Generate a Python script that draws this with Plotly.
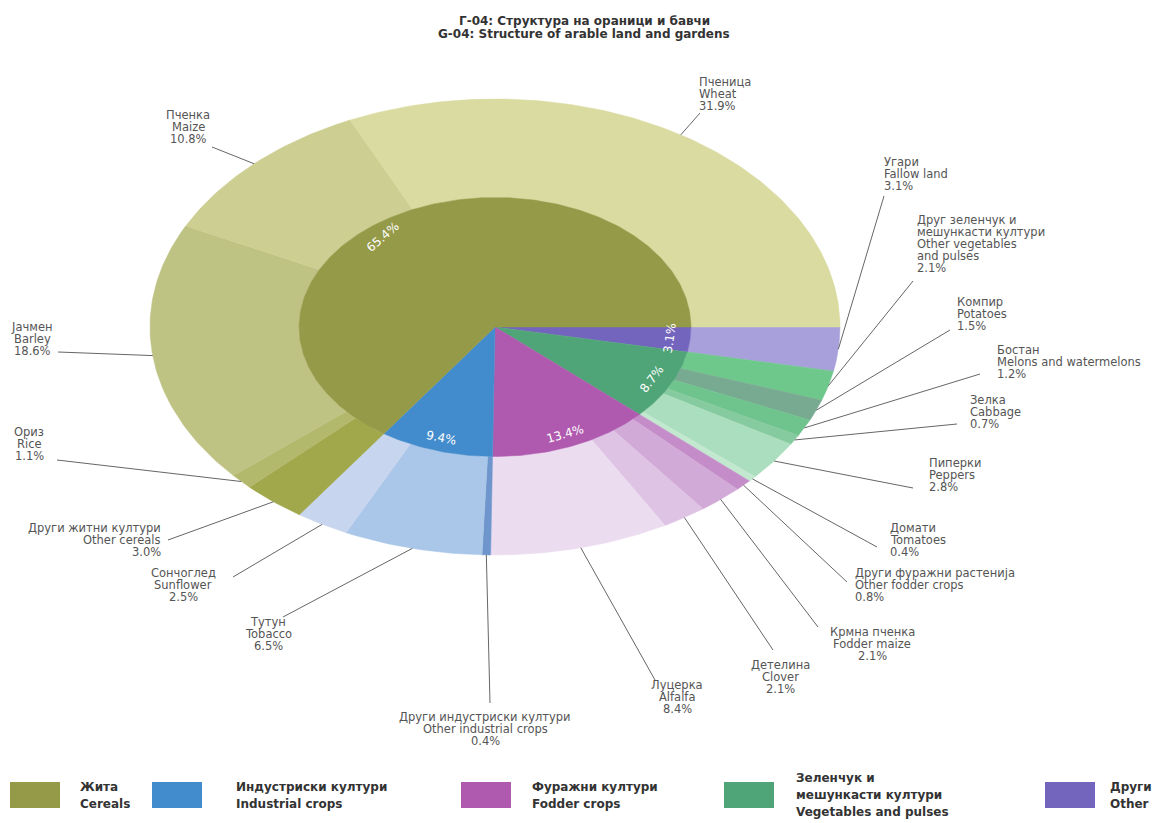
import math
import plotly.graph_objects as go

# ---- data (clockwise from 3 o'clock) ----
group_mk = ["Други", "Зеленчук и\nмешункасти култури", "Фуражни култури", "Индустриски култури", "Жита"]
group_en = ["Other", "Vegetables and pulses", "Fodder crops", "Industrial crops", "Cereals"]
group_pct = [3.1, 8.7, 13.4, 9.4, 65.4]

crop_mk = ["Угари", "Друг зеленчук и\nмешункасти култури", "Компир", "Бостан", "Зелка", "Пиперки",
           "Домати", "Други фуражни растенија", "Крмна пченка", "Детелина", "Луцерка",
           "Други индустриски култури", "Тутун", "Сончоглед", "Други житни култури", "Ориз",
           "Јачмен", "Пченка", "Пченица"]
crop_en = ["Fallow land", "Other vegetables\nand pulses", "Potatoes", "Melons and watermelons", "Cabbage",
           "Peppers", "Tomatoes", "Other fodder crops", "Fodder maize", "Clover", "Alfalfa",
           "Other industrial crops", "Tobacco", "Sunflower", "Other cereals", "Rice",
           "Barley", "Maize", "Wheat"]
crop_pct = [3.1, 2.1, 1.5, 1.2, 0.7, 2.8, 0.4, 0.8, 2.1, 2.1, 8.4, 0.4, 6.5, 2.5, 3.0, 1.1, 18.6, 10.8, 31.9]

# ---- styling ----
group_colors = ["#7364BE", "#50A578", "#AF5AAF", "#428CCD", "#959A48"]
crop_colors = ["#A8A0DA", "#6EC88C", "#78AA91", "#6EC48C", "#86CA9F", "#AADEBE", "#C3E8D0",
               "#C48CC8", "#D2AAD7", "#DEC3E4", "#ECDCF0",
               "#6E96CD", "#AAC6E8", "#C8D5EE",
               "#A0A84B", "#B2B86C", "#BEC282", "#CDCE91", "#D9DBA0"]

W, H = 1169, 823
CX, CY, RX, RY = 495, 327, 345, 228   # pie centre and radii on the page (px)
R_IN = 0.568                           # inner pie radius relative to outer ring

# inner label placement tweaks: (angle shift as fraction of a turn, extra rotation in degrees)
inner_label_adjust = [(0, 0), (0, 0), (0, 0), (0, 0), (-0.033, -12)]

# outer label placement: (x, first line y, align, leader end x, leader end y) in page pixels
label_pos = [
    (882, 162, "left", 884, 196),
    (915, 220, "left", 913, 281),
    (955, 302, "left", 950, 330),
    (995, 350, "left", 980, 374),
    (968, 400, "left", 957, 424),
    (927, 463, "left", 913, 488),
    (888, 528, "left", 877, 547),
    (853, 573, "left", 847, 582),
    (872, 632, "center", 818, 627),
    (780, 665, "center", 773, 650),
    (677, 685, "center", 655, 680),
    (485, 717, "center", 490, 703),
    (268, 622, "center", 283, 617),
    (183, 573, "center", 233, 577),
    (163, 528, "right", 168, 540),
    (29, 432, "center", 57, 460),
    (32, 327, "center", 58, 352),
    (188, 115, "center", 212, 147),
    (697, 82, "left", 700, 113),
]
LINE_H = 12
LABEL_FONT = dict(family="DejaVu Sans", size=11.5, color="#555555")


def to_xy(px, py):
    return (px - CX) / RX, (CY - py) / RY


def polar(frac, r):
    t = 2 * math.pi * frac
    return r * math.cos(t), -r * math.sin(t)


def wedge(f0, f1, r0, r1):
    n = max(4, int((f1 - f0) * 400))
    xs, ys = [], []
    for i in range(n + 1):
        x, y = polar(f0 + (f1 - f0) * i / n, r1)
        xs.append(x); ys.append(y)
    if r0 > 0:
        for i in range(n, -1, -1):
            x, y = polar(f0 + (f1 - f0) * i / n, r0)
            xs.append(x); ys.append(y)
    else:
        xs.append(0); ys.append(0)
    xs.append(xs[0]); ys.append(ys[0])
    return xs, ys


fig = go.Figure()
total = sum(crop_pct)

# outer ring: individual crops
acc = 0.0
mids = []
for pct, col, mk, en in zip(crop_pct, crop_colors, crop_mk, crop_en):
    f0, f1 = acc / total, (acc + pct) / total
    xs, ys = wedge(f0, f1, R_IN, 1.0)
    fig.add_trace(go.Scatter(x=xs, y=ys, fill="toself", fillcolor=col, mode="lines",
                             line=dict(color=col, width=0.5), hoverinfo="text",
                             text=f"{en.replace(chr(10), ' ')}: {pct}%", showlegend=False))
    mids.append((f0 + f1) / 2)
    acc += pct

# inner pie: crop groups
acc = 0.0
gtotal = sum(group_pct)
inner_ann = []
for pct, col, (shift, rot) in zip(group_pct, group_colors, inner_label_adjust):
    f0, f1 = acc / gtotal, (acc + pct) / gtotal
    xs, ys = wedge(f0, f1, 0, R_IN)
    fig.add_trace(go.Scatter(x=xs, y=ys, fill="toself", fillcolor=col, mode="lines",
                             line=dict(color=col, width=0.5), hoverinfo="skip", showlegend=False))
    fm = (f0 + f1) / 2 + shift
    t = 2 * math.pi * fm
    lx, ly = polar(fm, 0.51)
    ang = math.degrees(math.atan2(math.cos(t) * RY, -math.sin(t) * RX)) + rot
    while ang > 90:
        ang -= 180
    while ang < -90:
        ang += 180
    inner_ann.append(dict(x=lx, y=ly, xref="x", yref="y", text=f"{pct:.1f}%", showarrow=False,
                          textangle=ang, font=dict(family="DejaVu Sans", size=12, color="white")))
    acc += pct

# leader lines and outer labels
ann = list(inner_ann)
for mk, en, pct, fm, (lx, ly0, align, ex, ey) in zip(crop_mk, crop_en, crop_pct, mids, label_pos):
    sx, sy = polar(fm, 1.0)
    exd, eyd = to_xy(ex, ey)
    fig.add_trace(go.Scatter(x=[sx, exd], y=[sy, eyd], mode="lines",
                             line=dict(color="#666666", width=1), hoverinfo="skip", showlegend=False))
    lines = mk.split("\n") + en.split("\n") + [f"{pct:.1f}%"]
    for i, line in enumerate(lines):
        x, y = to_xy(lx, ly0 + i * LINE_H)
        ann.append(dict(x=x, y=y, xref="x", yref="y", text=line, showarrow=False,
                        xanchor=align, yanchor="middle", font=LABEL_FONT))

# title
for text, ty in [("Г-04: Структура на ораници и бавчи", 21), ("G-04: Structure of arable land and gardens", 34)]:
    ann.append(dict(x=584 / W, y=1 - ty / H, xref="paper", yref="paper", text=f"<b>{text}</b>",
                    showarrow=False, xanchor="center", yanchor="middle",
                    font=dict(family="DejaVu Sans", size=12, color="#333333")))

# legend
leg_swatch_x = [10, 152, 461, 724, 1045]
leg_text_x = [78, 234, 530, 794, 1108]
shapes = []
for mk, en, col, sx, tx in zip(group_mk[::-1], group_en[::-1], group_colors[::-1], leg_swatch_x, leg_text_x):
    shapes.append(dict(type="rect", xref="paper", yref="paper", x0=sx / W, x1=(sx + 50) / W,
                       y0=1 - 808 / H, y1=1 - 782 / H, fillcolor=col, line=dict(width=0)))
    lines = mk.split("\n") + [en]
    y_start = 795 - (len(lines) - 1) * 17 / 2
    for i, line in enumerate(lines):
        ann.append(dict(x=tx / W, y=1 - (y_start + i * 17) / H, xref="paper", yref="paper",
                        text=f"<b>{line}</b>", showarrow=False, xanchor="left", yanchor="middle",
                        font=dict(family="DejaVu Sans", size=12, color="#333333")))

fig.update_layout(
    width=W, height=H, margin=dict(l=0, r=0, t=0, b=0),
    paper_bgcolor="white", plot_bgcolor="white",
    xaxis=dict(range=[-CX / RX, (W - CX) / RX], visible=False, fixedrange=True),
    yaxis=dict(range=[(CY - H) / RY, CY / RY], visible=False, fixedrange=True),
    annotations=ann, shapes=shapes, showlegend=False,
)

fig.write_html("out.html")
